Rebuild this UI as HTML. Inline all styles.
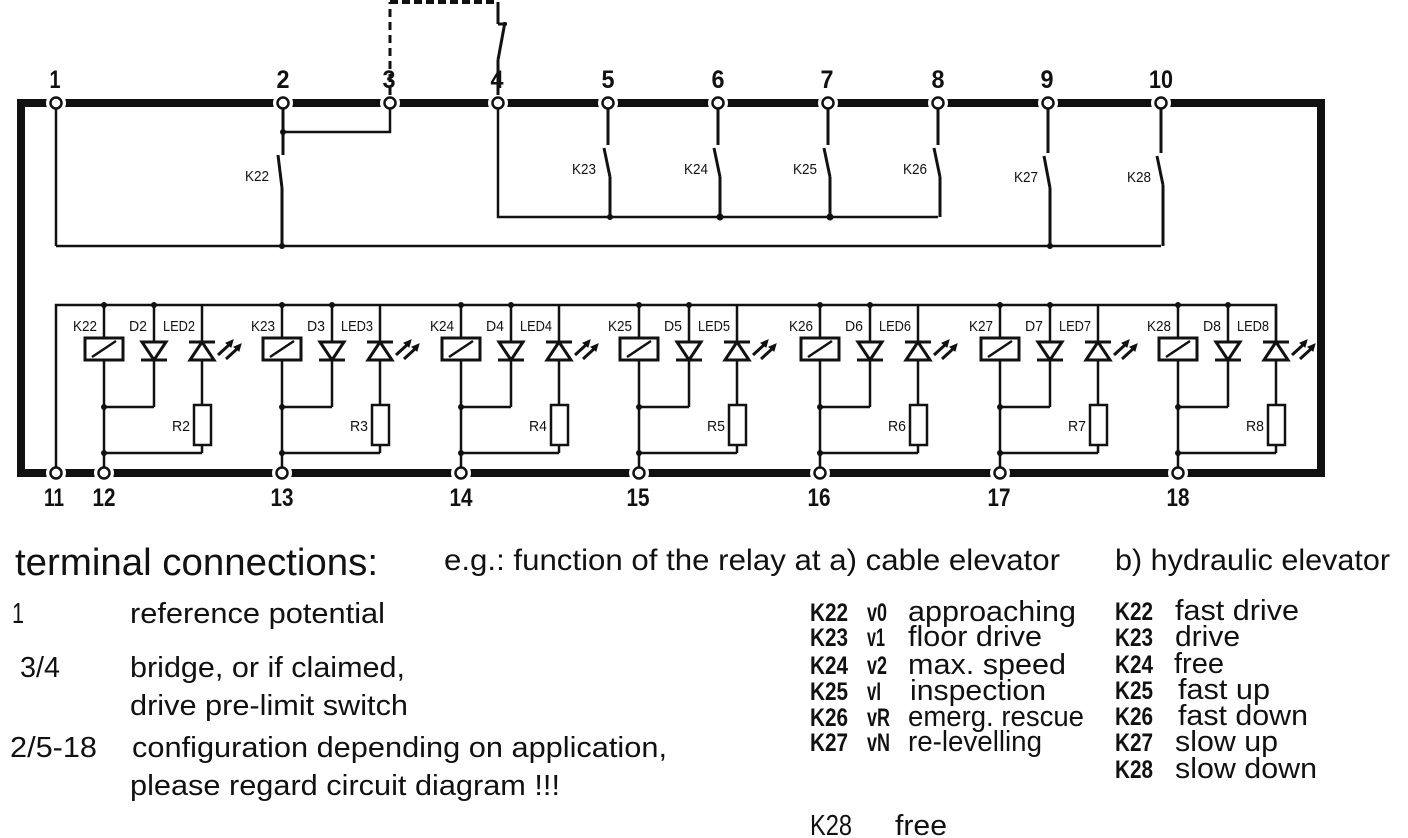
<!DOCTYPE html>
<html><head><meta charset="utf-8"><style>
html,body{margin:0;padding:0;background:#fff;width:1408px;height:838px;overflow:hidden}
svg{display:block}
.n{font-family:"Liberation Sans",sans-serif;font-weight:bold;font-size:25px;fill:#111}
.l{font-family:"Liberation Sans",sans-serif;font-size:15px;fill:#111}
.t{font-family:"Liberation Sans",sans-serif;fill:#111}
.k{font-family:"Liberation Sans",sans-serif;font-weight:bold;fill:#111}
</style></head><body>
<svg width="1408" height="838" viewBox="0 0 1408 838" xmlns="http://www.w3.org/2000/svg">
<defs>
<g id="m" stroke="#111" stroke-width="2.5" fill="none">
  <line x1="0" y1="305" x2="0" y2="473"/>
  <rect x="-19" y="338" width="38" height="22" fill="#fff" stroke-width="3"/>
  <line x1="-12" y1="357" x2="12" y2="341"/>
  <line x1="50" y1="305" x2="50" y2="407"/>
  <polygon points="38,342 62,342 50,360" fill="#fff" stroke-width="3"/>
  <line x1="37" y1="360" x2="63" y2="360" stroke-width="3"/>
  <line x1="0" y1="407" x2="50" y2="407"/>
  <line x1="98" y1="305" x2="98" y2="405"/>
  <polygon points="86,360 110,360 98,342" fill="#fff" stroke-width="3"/>
  <line x1="85" y1="342" x2="111" y2="342" stroke-width="3"/>
  <rect x="90" y="405" width="17" height="40" fill="#fff"/>
  <line x1="98" y1="445" x2="98" y2="453"/>
  <line x1="98" y1="453" x2="0" y2="453"/>
  <line x1="114" y1="355" x2="126" y2="344" stroke-width="3"/>
  <line x1="122" y1="359" x2="134" y2="348" stroke-width="3"/>
  <polygon points="129,340 122,343 127,347" fill="#111" stroke-width="1"/>
  <polygon points="137,344 130,347 135,351" fill="#111" stroke-width="1"/>
  <circle cx="0" cy="305" r="3" fill="#111" stroke="none"/>
  <circle cx="50" cy="305" r="3" fill="#111" stroke="none"/>
  <circle cx="0" cy="407" r="3" fill="#111" stroke="none"/>
  <circle cx="0" cy="453" r="3" fill="#111" stroke="none"/>
</g>
</defs>

<!-- frame -->
<polyline points="21,107 21,103 1321,103 1321,473 21,473 21,103" stroke="#111" stroke-width="8" fill="none"/>
<!-- gaps at terminals -->
<g fill="#fff">
<circle cx="56" cy="103" r="10"/><circle cx="283" cy="103" r="10"/><circle cx="390" cy="103" r="10"/>
<circle cx="498" cy="103" r="10"/><circle cx="608" cy="103" r="10"/><circle cx="718" cy="103" r="10"/>
<circle cx="828" cy="103" r="10"/><circle cx="938" cy="103" r="10"/><circle cx="1048" cy="103" r="10"/>
<circle cx="1161" cy="103" r="10"/>
<circle cx="56" cy="473" r="10"/><circle cx="104" cy="473" r="10"/><circle cx="282" cy="473" r="10"/>
<circle cx="461" cy="473" r="10"/><circle cx="639" cy="473" r="10"/><circle cx="820" cy="473" r="10"/>
<circle cx="1000" cy="473" r="10"/><circle cx="1178" cy="473" r="10"/>
</g>

<!-- top wiring -->
<g stroke="#111" stroke-width="2.5" fill="none">
  <line x1="56" y1="103" x2="56" y2="246"/>
  <line x1="56" y1="246" x2="1161" y2="246"/>
  <line x1="283" y1="103" x2="283" y2="155" stroke-width="3"/>
  <line x1="278" y1="155" x2="282" y2="188" stroke-width="3"/>
  <line x1="282" y1="188" x2="282" y2="246" stroke-width="3"/>
  <polyline points="283,132 390,132 390,103"/>
  <line x1="390" y1="95" x2="390" y2="2" stroke-dasharray="8,5" stroke-width="3"/>
  <line x1="390" y1="2" x2="498" y2="2" stroke-dasharray="8,4" stroke-width="4"/>
  <line x1="498" y1="2" x2="498" y2="24" stroke-width="3"/>
  <line x1="498" y1="24" x2="507" y2="24" stroke-width="3"/>
  <line x1="505" y1="22" x2="498" y2="60" stroke-width="3"/>
  <line x1="498" y1="60" x2="498" y2="95" stroke-width="3"/>
  <polyline points="498,103 498,217 938,217"/>
  <g stroke-width="3">
  <line x1="608" y1="103" x2="608" y2="145"/><line x1="604" y1="148" x2="610" y2="177"/><line x1="610" y1="177" x2="610" y2="217"/>
  <line x1="718" y1="103" x2="718" y2="145"/><line x1="714" y1="148" x2="720" y2="177"/><line x1="720" y1="177" x2="720" y2="217"/>
  <line x1="828" y1="103" x2="828" y2="145"/><line x1="824" y1="148" x2="830" y2="177"/><line x1="830" y1="177" x2="830" y2="217"/>
  <line x1="938" y1="103" x2="938" y2="145"/><line x1="934" y1="148" x2="940" y2="177"/><line x1="940" y1="177" x2="940" y2="217"/>
  <line x1="1048" y1="103" x2="1048" y2="153"/><line x1="1044" y1="156" x2="1050" y2="188"/><line x1="1050" y1="188" x2="1050" y2="246"/>
  <line x1="1161" y1="103" x2="1161" y2="153"/><line x1="1157" y1="156" x2="1163" y2="185"/><line x1="1163" y1="185" x2="1163" y2="246"/>
  </g>
</g>
<g fill="#111">
<circle cx="283" cy="132" r="3"/><circle cx="282" cy="246" r="3"/><circle cx="610" cy="217" r="3"/>
<circle cx="720" cy="217" r="3.5"/><circle cx="830" cy="217" r="3.5"/><circle cx="1050" cy="246" r="3"/>
</g>

<polyline points="56,473 56,305 1276,305 1276,360" stroke="#111" stroke-width="2.5" fill="none"/>

<use href="#m" x="104"/><use href="#m" x="282"/><use href="#m" x="461"/><use href="#m" x="639"/>
<use href="#m" x="820"/><use href="#m" x="1000"/><use href="#m" x="1178"/>

<!-- terminals -->
<g fill="#fff" stroke="#111" stroke-width="2.5">
<circle cx="56" cy="103" r="5.5"/><circle cx="283" cy="103" r="5.5"/><circle cx="390" cy="103" r="5.5"/>
<circle cx="498" cy="103" r="5.5"/><circle cx="608" cy="103" r="5.5"/><circle cx="718" cy="103" r="5.5"/>
<circle cx="828" cy="103" r="5.5"/><circle cx="938" cy="103" r="5.5"/><circle cx="1048" cy="103" r="5.5"/>
<circle cx="1161" cy="103" r="5.5"/>
<circle cx="56" cy="473" r="5.5"/><circle cx="104" cy="473" r="5.5"/><circle cx="282" cy="473" r="5.5"/>
<circle cx="461" cy="473" r="5.5"/><circle cx="639" cy="473" r="5.5"/><circle cx="820" cy="473" r="5.5"/>
<circle cx="1000" cy="473" r="5.5"/><circle cx="1178" cy="473" r="5.5"/>
</g>

<g class="n" text-anchor="middle">
<text x="55" y="88" textLength="11" lengthAdjust="spacingAndGlyphs">1</text><text x="283" y="88" textLength="13" lengthAdjust="spacingAndGlyphs">2</text><text x="389" y="88" textLength="13" lengthAdjust="spacingAndGlyphs">3</text><text x="497" y="88" textLength="13" lengthAdjust="spacingAndGlyphs">4</text>
<text x="608" y="88" textLength="13" lengthAdjust="spacingAndGlyphs">5</text><text x="718" y="88" textLength="13" lengthAdjust="spacingAndGlyphs">6</text><text x="827" y="88" textLength="13" lengthAdjust="spacingAndGlyphs">7</text><text x="938" y="88" textLength="13" lengthAdjust="spacingAndGlyphs">8</text>
<text x="1047" y="88" textLength="13" lengthAdjust="spacingAndGlyphs">9</text><text x="1161" y="88" textLength="24" lengthAdjust="spacingAndGlyphs">10</text>
<text x="54" y="506" textLength="20" lengthAdjust="spacingAndGlyphs">11</text><text x="104" y="506" textLength="23" lengthAdjust="spacingAndGlyphs">12</text><text x="282" y="506" textLength="23" lengthAdjust="spacingAndGlyphs">13</text>
<text x="461" y="506" textLength="23" lengthAdjust="spacingAndGlyphs">14</text><text x="638" y="506" textLength="23" lengthAdjust="spacingAndGlyphs">15</text><text x="819" y="506" textLength="23" lengthAdjust="spacingAndGlyphs">16</text>
<text x="999" y="506" textLength="23" lengthAdjust="spacingAndGlyphs">17</text><text x="1178" y="506" textLength="23" lengthAdjust="spacingAndGlyphs">18</text>
</g>

<g class="l">
<text x="245" y="181" textLength="24" lengthAdjust="spacingAndGlyphs">K22</text><text x="572" y="174" textLength="24" lengthAdjust="spacingAndGlyphs">K23</text>
<text x="684" y="174" textLength="24" lengthAdjust="spacingAndGlyphs">K24</text><text x="793" y="174" textLength="24" lengthAdjust="spacingAndGlyphs">K25</text>
<text x="903" y="174" textLength="24" lengthAdjust="spacingAndGlyphs">K26</text><text x="1014" y="182" textLength="24" lengthAdjust="spacingAndGlyphs">K27</text>
<text x="1127" y="182" textLength="24" lengthAdjust="spacingAndGlyphs">K28</text>
</g>

<g class="l" lengthAdjust="spacingAndGlyphs">
<text x="73" y="331" textLength="24" lengthAdjust="spacingAndGlyphs">K22</text><text x="129" y="331" textLength="18" lengthAdjust="spacingAndGlyphs">D2</text><text x="163" y="331" textLength="32" lengthAdjust="spacingAndGlyphs">LED2</text><text x="172" y="431" textLength="18" lengthAdjust="spacingAndGlyphs">R2</text>
<text x="251" y="331" textLength="24" lengthAdjust="spacingAndGlyphs">K23</text><text x="307" y="331" textLength="18" lengthAdjust="spacingAndGlyphs">D3</text><text x="341" y="331" textLength="32" lengthAdjust="spacingAndGlyphs">LED3</text><text x="350" y="431" textLength="18" lengthAdjust="spacingAndGlyphs">R3</text>
<text x="430" y="331" textLength="24" lengthAdjust="spacingAndGlyphs">K24</text><text x="486" y="331" textLength="18" lengthAdjust="spacingAndGlyphs">D4</text><text x="520" y="331" textLength="32" lengthAdjust="spacingAndGlyphs">LED4</text><text x="529" y="431" textLength="18" lengthAdjust="spacingAndGlyphs">R4</text>
<text x="608" y="331" textLength="24" lengthAdjust="spacingAndGlyphs">K25</text><text x="664" y="331" textLength="18" lengthAdjust="spacingAndGlyphs">D5</text><text x="698" y="331" textLength="32" lengthAdjust="spacingAndGlyphs">LED5</text><text x="707" y="431" textLength="18" lengthAdjust="spacingAndGlyphs">R5</text>
<text x="789" y="331" textLength="24" lengthAdjust="spacingAndGlyphs">K26</text><text x="845" y="331" textLength="18" lengthAdjust="spacingAndGlyphs">D6</text><text x="879" y="331" textLength="32" lengthAdjust="spacingAndGlyphs">LED6</text><text x="888" y="431" textLength="18" lengthAdjust="spacingAndGlyphs">R6</text>
<text x="969" y="331" textLength="24" lengthAdjust="spacingAndGlyphs">K27</text><text x="1025" y="331" textLength="18" lengthAdjust="spacingAndGlyphs">D7</text><text x="1059" y="331" textLength="32" lengthAdjust="spacingAndGlyphs">LED7</text><text x="1068" y="431" textLength="18" lengthAdjust="spacingAndGlyphs">R7</text>
<text x="1147" y="331" textLength="24" lengthAdjust="spacingAndGlyphs">K28</text><text x="1203" y="331" textLength="18" lengthAdjust="spacingAndGlyphs">D8</text><text x="1237" y="331" textLength="32" lengthAdjust="spacingAndGlyphs">LED8</text><text x="1246" y="431" textLength="18" lengthAdjust="spacingAndGlyphs">R8</text>
</g>

<g class="t">
<text x="15" y="575" font-size="38" textLength="363" lengthAdjust="spacingAndGlyphs">terminal connections:</text>
<text x="444" y="570" font-size="30" textLength="616" lengthAdjust="spacingAndGlyphs">e.g.: function of the relay at  a) cable elevator</text>
<text x="1115" y="570" font-size="30" textLength="275" lengthAdjust="spacingAndGlyphs">b) hydraulic elevator</text>
<g font-size="29">
<text x="12" y="623" textLength="12" lengthAdjust="spacingAndGlyphs">1</text>
<text x="130" y="623" textLength="255" lengthAdjust="spacingAndGlyphs">reference potential</text>
<text x="20" y="677" textLength="40" lengthAdjust="spacingAndGlyphs">3/4</text>
<text x="130" y="677" textLength="275" lengthAdjust="spacingAndGlyphs">bridge, or if claimed,</text>
<text x="130" y="715" textLength="278" lengthAdjust="spacingAndGlyphs">drive pre-limit switch</text>
<text x="10" y="757" textLength="87" lengthAdjust="spacingAndGlyphs">2/5-18</text>
<text x="132" y="757" textLength="535" lengthAdjust="spacingAndGlyphs">configuration depending on application,</text>
<text x="130" y="795" textLength="430" lengthAdjust="spacingAndGlyphs">please regard circuit diagram !!!</text>
</g>
<g font-size="29">
<text x="908" y="621" textLength="168" lengthAdjust="spacingAndGlyphs">approaching</text>
<text x="908" y="646" textLength="134" lengthAdjust="spacingAndGlyphs">floor drive</text>
<text x="908" y="674" textLength="158" lengthAdjust="spacingAndGlyphs">max. speed</text>
<text x="910" y="700" textLength="136" lengthAdjust="spacingAndGlyphs">inspection</text>
<text x="908" y="726" textLength="176" lengthAdjust="spacingAndGlyphs">emerg. rescue</text>
<text x="908" y="751" textLength="134" lengthAdjust="spacingAndGlyphs">re-levelling</text>
<text x="1175" y="620" textLength="124" lengthAdjust="spacingAndGlyphs">fast drive</text>
<text x="1175" y="646" textLength="65" lengthAdjust="spacingAndGlyphs">drive</text>
<text x="1174" y="673" textLength="50" lengthAdjust="spacingAndGlyphs">free</text>
<text x="1178" y="699" textLength="92" lengthAdjust="spacingAndGlyphs">fast up</text>
<text x="1178" y="725" textLength="130" lengthAdjust="spacingAndGlyphs">fast down</text>
<text x="1175" y="751" textLength="103" lengthAdjust="spacingAndGlyphs">slow up</text>
<text x="1175" y="778" textLength="142" lengthAdjust="spacingAndGlyphs">slow down</text>
<text x="810" y="835" textLength="42" lengthAdjust="spacingAndGlyphs">K28</text>
<text x="895" y="835" textLength="52" lengthAdjust="spacingAndGlyphs">free</text>
</g>
</g>
<g class="k" font-size="25">
<text x="810" y="621" textLength="38" lengthAdjust="spacingAndGlyphs">K22</text><text x="867" y="621" textLength="20" lengthAdjust="spacingAndGlyphs">v0</text>
<text x="810" y="646" textLength="38" lengthAdjust="spacingAndGlyphs">K23</text><text x="867" y="646" textLength="18" lengthAdjust="spacingAndGlyphs">v1</text>
<text x="810" y="674" textLength="38" lengthAdjust="spacingAndGlyphs">K24</text><text x="867" y="674" textLength="20" lengthAdjust="spacingAndGlyphs">v2</text>
<text x="810" y="700" textLength="38" lengthAdjust="spacingAndGlyphs">K25</text><text x="867" y="700" textLength="14" lengthAdjust="spacingAndGlyphs">vI</text>
<text x="810" y="726" textLength="38" lengthAdjust="spacingAndGlyphs">K26</text><text x="867" y="726" textLength="23" lengthAdjust="spacingAndGlyphs">vR</text>
<text x="810" y="751" textLength="38" lengthAdjust="spacingAndGlyphs">K27</text><text x="867" y="751" textLength="23" lengthAdjust="spacingAndGlyphs">vN</text>
<text x="1115" y="620" textLength="38" lengthAdjust="spacingAndGlyphs">K22</text>
<text x="1115" y="646" textLength="38" lengthAdjust="spacingAndGlyphs">K23</text>
<text x="1115" y="673" textLength="38" lengthAdjust="spacingAndGlyphs">K24</text>
<text x="1115" y="699" textLength="38" lengthAdjust="spacingAndGlyphs">K25</text>
<text x="1115" y="725" textLength="38" lengthAdjust="spacingAndGlyphs">K26</text>
<text x="1115" y="751" textLength="38" lengthAdjust="spacingAndGlyphs">K27</text>
<text x="1115" y="778" textLength="38" lengthAdjust="spacingAndGlyphs">K28</text>
</g>
</svg>
</body></html>
